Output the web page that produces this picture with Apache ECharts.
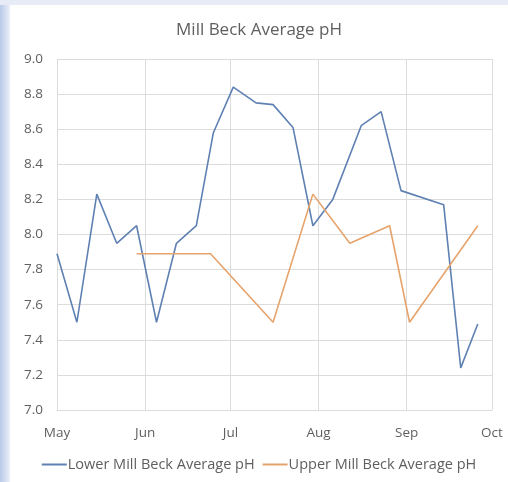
<!DOCTYPE html>
<html><head><meta charset="utf-8">
<script src="https://cdn.jsdelivr.net/npm/echarts@6/dist/echarts.min.js"></script>
<style>
html,body{margin:0;padding:0;width:508px;height:482px;overflow:hidden;}
body{background:linear-gradient(to right,#b9c9e8 0px,#d6e0f1 6px,#eef2f9 10px);}
#bar{position:absolute;left:0;top:0;width:508px;height:5px;background:#e6ebf5;}
#c{position:absolute;left:10px;top:5px;width:498px;height:477px;background:#fff;}
</style></head>
<body><div id="bar"></div><div id="c"></div>
<script>
const title = 'Mill Beck Average pH';
const monthLabels = ['Jan','Feb','Mar','Apr','May','Jun','Jul','Aug','Sep','Oct','Nov','Dec'];
const lowerName = 'Lower Mill Beck Average pH';
const upperName = 'Upper Mill Beck Average pH';
const lowerDates = ['2019-05-01','2019-05-08','2019-05-15','2019-05-22','2019-05-29','2019-06-05','2019-06-12','2019-06-19','2019-06-25','2019-07-02','2019-07-10','2019-07-16','2019-07-23','2019-07-30','2019-08-06','2019-08-16','2019-08-23','2019-08-30','2019-09-14','2019-09-20','2019-09-26'];
const lowerValues = [7.89,7.50,8.23,7.95,8.05,7.50,7.95,8.05,8.58,8.84,8.75,8.74,8.61,8.05,8.20,8.62,8.70,8.25,8.17,7.24,7.49];
const upperDates = ['2019-05-29','2019-06-24','2019-07-16','2019-07-30','2019-08-12','2019-08-26','2019-09-02','2019-09-26'];
const upperValues = [7.89,7.89,7.50,8.23,7.95,8.05,7.50,8.05];
const xMin = '2019-05-01', xMax = '2019-10-01';
const yMin = 7.0, yMax = 9.0, yStep = 0.2;

const pair = (d, v) => d.map((x, i) => [x, v[i]]);
const chart = echarts.init(document.getElementById('c'));
const txt = '#5f5f5f', grid = '#dcdcdc';
const font = '"Open Sans", Lato, sans-serif';
const blue = '#5f80b3', orange = '#e6a36b';
chart.setOption({
  animation: false,
  textStyle: {fontFamily: font},
  title: {text: title, left: 'center', top: 12, textStyle: {fontSize: 17, fontWeight: 'normal', color: txt, fontFamily: font}},
  grid: {left: 47, right: 16, top: 54, bottom: 72, containLabel: false},
  legend: {bottom: 5, left: 'center', itemWidth: 25, itemHeight: 2, itemGap: 8, icon: 'rect',
    textStyle: {fontSize: 14.5, color: txt, fontFamily: font, padding: [0,0,0,-4]},
    data: [lowerName, upperName]},
  xAxis: {type: 'time', min: xMin, max: xMax, splitNumber: 5,
    axisLine: {show: true, lineStyle: {color: grid}},
    axisTick: {show: false},
    splitLine: {show: true, lineStyle: {color: grid}},
    minorTick: {show: false},
    axisLabel: {color: txt, fontSize: 13.5, margin: 16, showMinLabel: true, showMaxLabel: true,
      formatter: v => monthLabels[new Date(v).getMonth()]}},
  yAxis: {type: 'value', min: yMin, max: yMax, interval: yStep,
    axisLine: {show: false}, axisTick: {show: false},
    splitLine: {lineStyle: {color: grid}},
    axisLabel: {color: txt, fontSize: 13.5, margin: 14, formatter: v => v.toFixed(1)}},
  series: [
    {name: lowerName, type: 'line', data: pair(lowerDates, lowerValues), showSymbol: false, symbol: 'none',
      lineStyle: {color: blue, width: 1.6}, itemStyle: {color: blue}},
    {name: upperName, type: 'line', data: pair(upperDates, upperValues), showSymbol: false, symbol: 'none',
      lineStyle: {color: orange, width: 1.6}, itemStyle: {color: orange}}
  ]
});
</script></body></html>
